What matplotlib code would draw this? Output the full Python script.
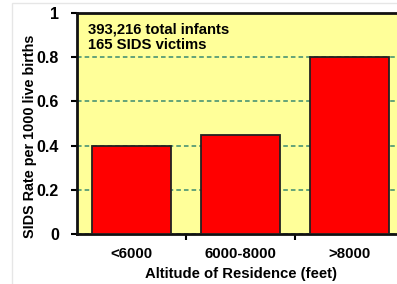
import matplotlib.pyplot as plt
from matplotlib.ticker import FixedLocator
from matplotlib.patches import Rectangle

categories = ["<6000", "6000-8000", ">8000"]
rates = [0.40, 0.45, 0.80]
yticks = [0, 0.2, 0.4, 0.6, 0.8, 1]
ytick_labels = ["0", "0.2", "0.4", "0.6", "0.8", "1"]
note = "393,216 total infants\n165 SIDS victims"

plt.rcParams['font.family'] = ['Liberation Sans', 'DejaVu Sans']
plt.rcParams['font.weight'] = 'bold'

fig = plt.figure(figsize=(3.97, 2.84), dpi=100)

# faint slide frame
fig.patches.append(Rectangle((12 / 397, -0.1), 1.2, 0.1 + 281 / 284, transform=fig.transFigure,
                             fill=False, edgecolor="#e6e6e6", linewidth=1))

ax = fig.add_axes([0.194, 0.176, 0.824, 0.778])
ax.set_facecolor("#FFFF99")

x = list(range(len(categories)))
ax.set_axisbelow(True)
ax.grid(axis="y", linestyle=(0, (3, 2)), color="#3a8a70", linewidth=1.1)
ax.bar(x, rates, width=0.72, color="#FF0000", edgecolor="#222222", linewidth=1.3, zorder=3)

ax.set_xlim(-0.5, len(categories) - 0.5)
ax.set_ylim(0, 1)
ax.set_yticks(yticks)
ax.set_yticklabels(ytick_labels, fontsize=11.5, fontweight="bold")
ax.set_xticks(x)
ax.set_xticklabels(categories, fontsize=10.8, fontweight="bold")
ax.xaxis.set_minor_locator(FixedLocator([0.5, 1.5]))
ax.tick_params(axis="x", which="major", length=0, pad=9)
ax.tick_params(axis="x", which="minor", length=4, width=1.5, direction="out")
ax.tick_params(axis="y", length=4, width=1.5, direction="out", pad=9)

for side in ["left", "bottom", "top"]:
    ax.spines[side].set_linewidth(2)
    ax.spines[side].set_color("#111111")

ax.set_ylabel("SIDS Rate per 1000 live births", fontsize=10.4, fontweight="bold")
ax.yaxis.set_label_coords(-0.122, 0.443)
ax.set_xlabel("Altitude of Residence (feet)", fontsize=10.7, fontweight="bold", labelpad=5)

ax.text(0.035, 0.958, note, transform=ax.transAxes, ha="left", va="top",
        fontsize=10.7, fontweight="bold", linespacing=1.12)

fig.savefig("out.png", dpi=100, facecolor="white")
